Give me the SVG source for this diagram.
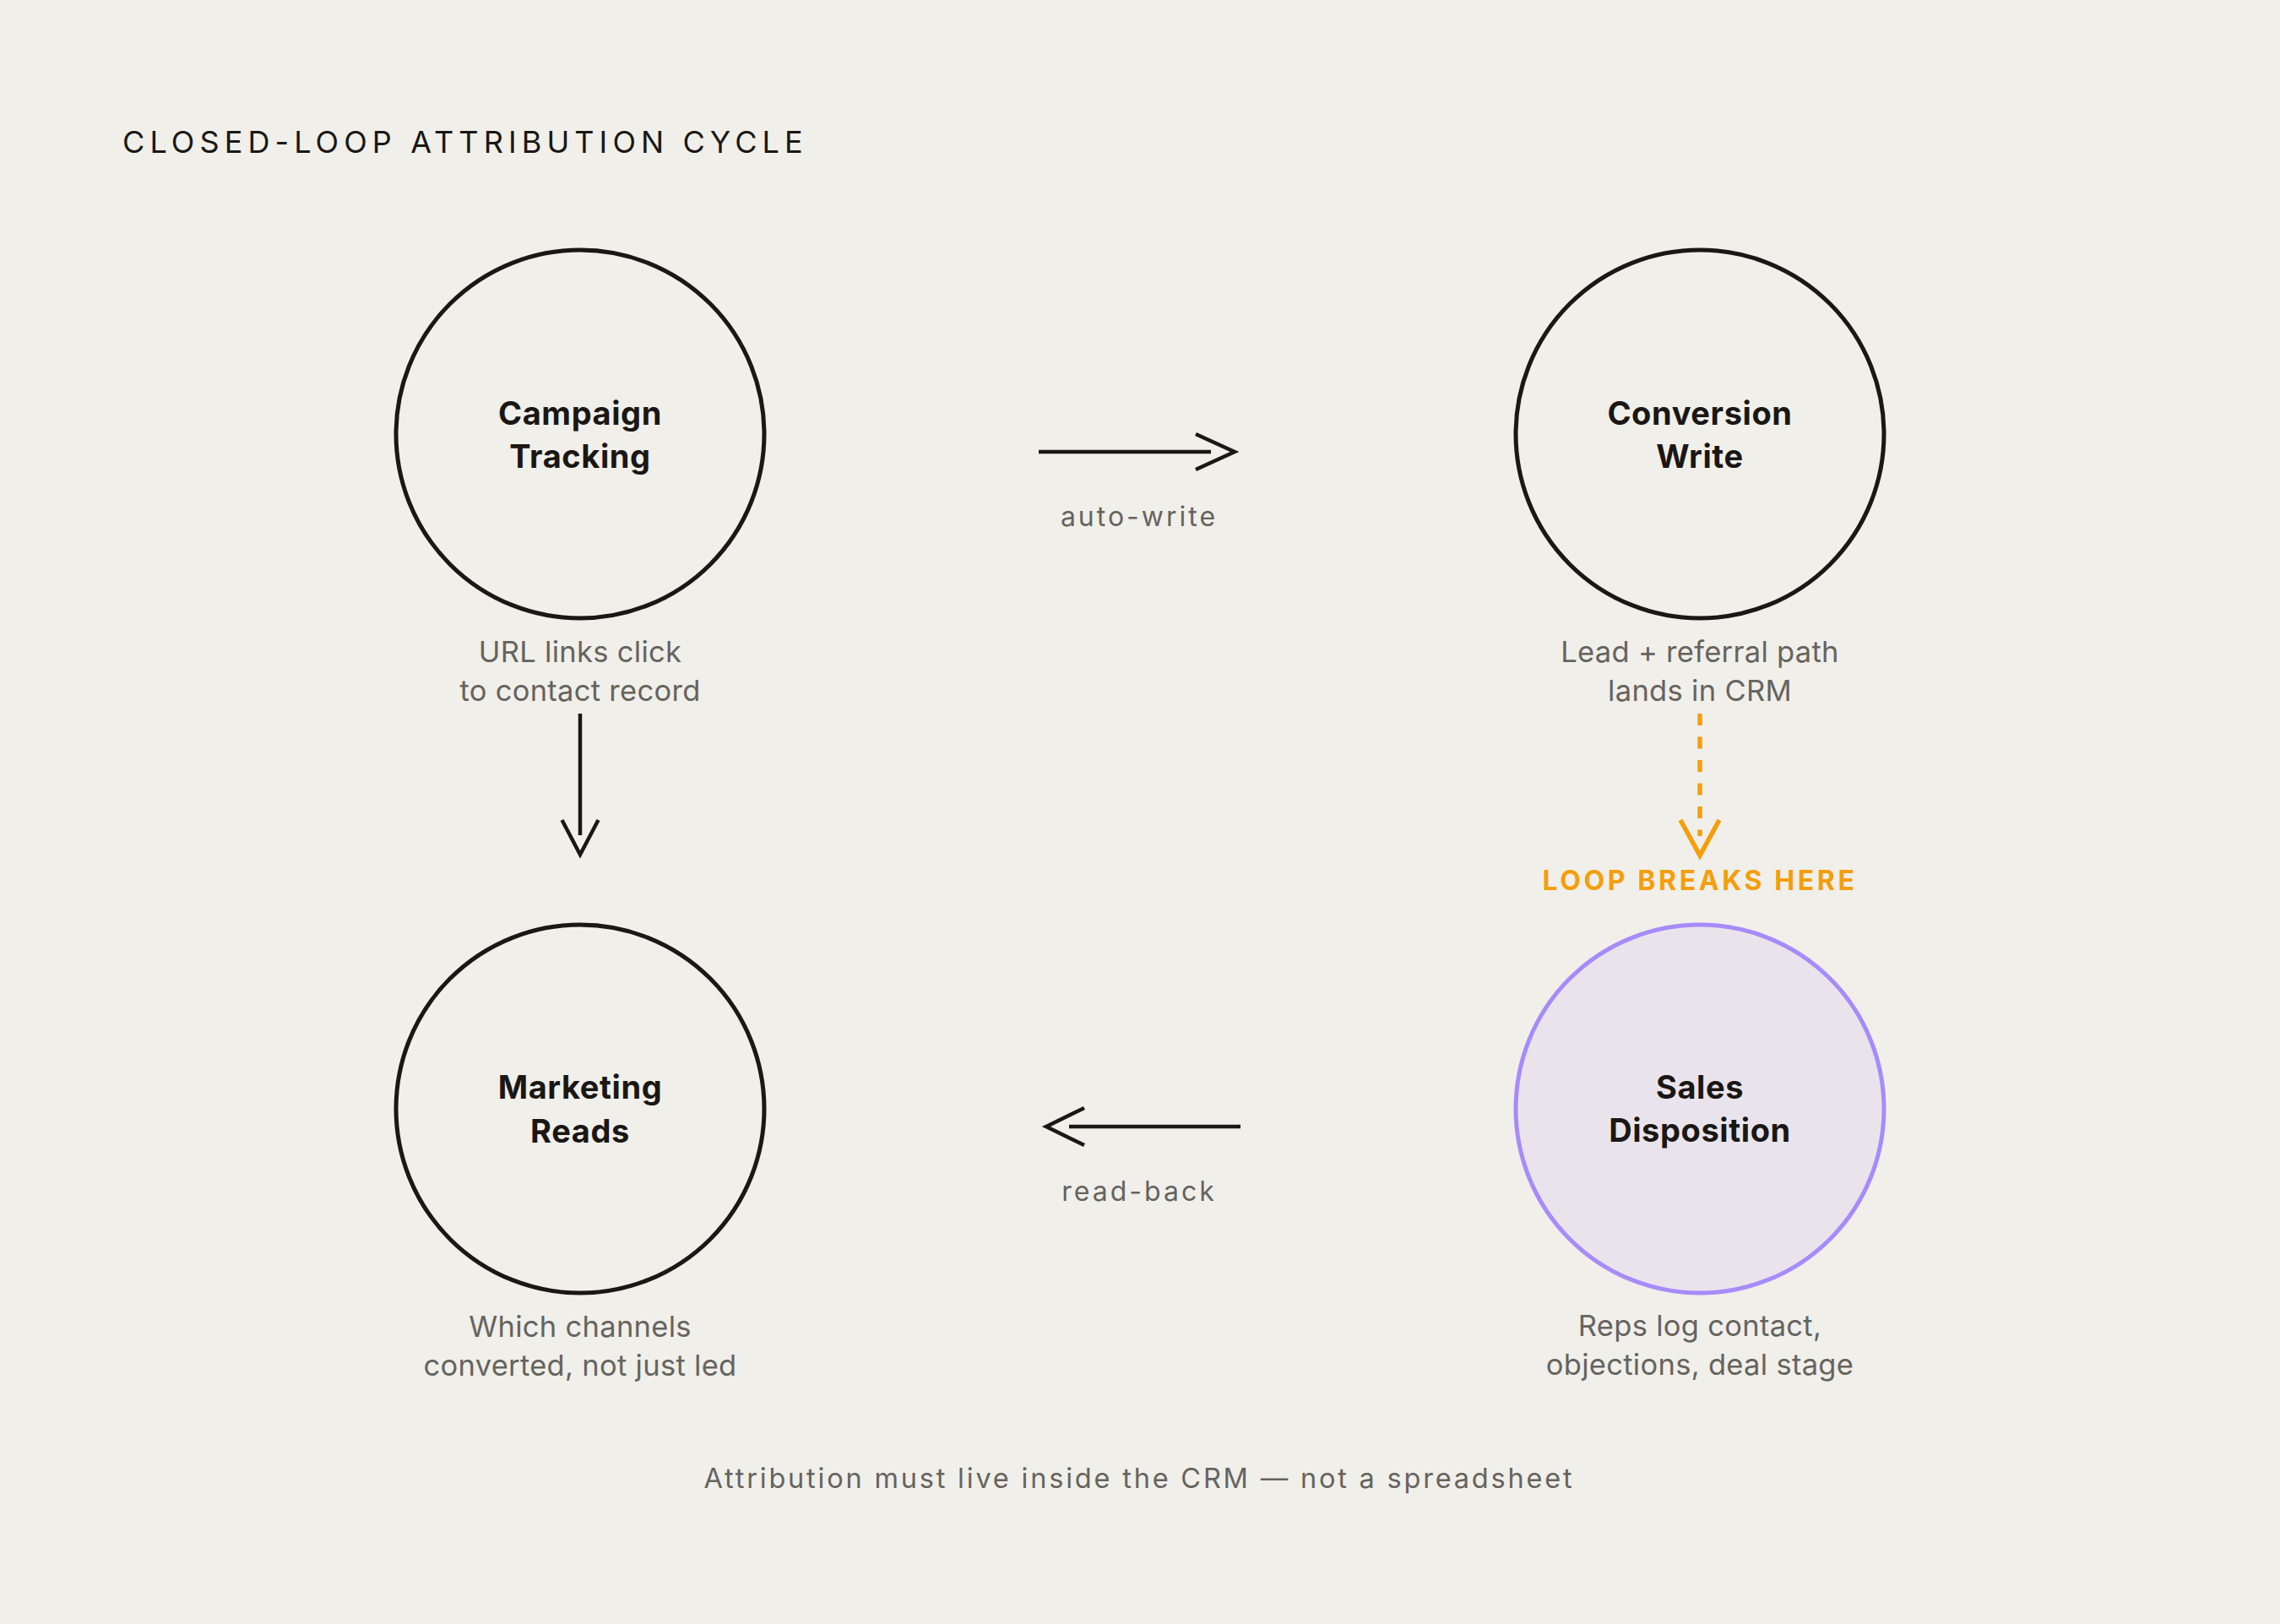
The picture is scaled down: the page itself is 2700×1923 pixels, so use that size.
<svg xmlns="http://www.w3.org/2000/svg" width="2700" height="1923" viewBox="0 0 2700 1923">
  <style>
    .node { fill: none; stroke: #1a1714; stroke-width: 5; }
    .node-hl { fill: #e9e4ec; stroke: #a78bfa; stroke-width: 5; }
    .title { font-family: Inter, "Liberation Sans", sans-serif; font-size: 36px; fill: #1a1714; letter-spacing: 6.1px; }
    .lbl { font-family: Inter, "Liberation Sans", sans-serif; font-size: 38px; font-weight: 700; fill: #1a1714; text-anchor: middle; letter-spacing: 0.6px; }
    .sub { font-family: Inter, "Liberation Sans", sans-serif; font-size: 34.5px; fill: #66635e; text-anchor: middle; letter-spacing: 0.3px; }
    .elbl { font-family: Inter, "Liberation Sans", sans-serif; font-size: 32px; fill: #66635e; text-anchor: middle; letter-spacing: 3px; }
    .foot { font-family: Inter, "Liberation Sans", sans-serif; font-size: 32.5px; fill: #66635e; text-anchor: middle; letter-spacing: 2.8px; }
    .warn { font-family: Inter, "Liberation Sans", sans-serif; font-size: 32px; font-weight: 700; fill: #f59e0b; text-anchor: middle; letter-spacing: 3.6px; }
    .edge { fill: none; stroke: #1a1714; stroke-width: 4.5; }
    .edge-warn { fill: none; stroke: #f59e0b; stroke-width: 5.5; }
  </style>
  <rect width="2700" height="1923" fill="#f0efea"/>
  <text class="title" x="145" y="181">CLOSED-LOOP ATTRIBUTION CYCLE</text>

  <g id="campaign-tracking">
    <circle class="node" cx="687" cy="514" r="218"/>
    <text class="lbl" x="687" y="503">Campaign</text>
    <text class="lbl" x="687" y="554">Tracking</text>
    <text class="sub" x="687" y="784">URL links click</text>
    <text class="sub" x="687" y="830">to contact record</text>
  </g>

  <g id="conversion-write">
    <circle class="node" cx="2013" cy="514" r="218"/>
    <text class="lbl" x="2013" y="503">Conversion</text>
    <text class="lbl" x="2013" y="554">Write</text>
    <text class="sub" x="2013" y="784">Lead + referral path</text>
    <text class="sub" x="2013" y="830">lands in CRM</text>
  </g>

  <g id="marketing-reads">
    <circle class="node" cx="687" cy="1313" r="218"/>
    <text class="lbl" x="687" y="1301">Marketing</text>
    <text class="lbl" x="687" y="1353">Reads</text>
    <text class="sub" x="687" y="1583">Which channels</text>
    <text class="sub" x="687" y="1629">converted, not just led</text>
  </g>

  <g id="sales-disposition">
    <circle class="node-hl" cx="2013" cy="1313" r="218"/>
    <text class="lbl" x="2013" y="1301">Sales</text>
    <text class="lbl" x="2013" y="1352">Disposition</text>
    <text class="sub" x="2013" y="1582">Reps log contact,</text>
    <text class="sub" x="2013" y="1628">objections, deal stage</text>
  </g>

  <g id="connectors">
    <g id="edge-auto-write">
      <line class="edge" x1="1230" y1="535" x2="1434" y2="535"/>
      <polyline class="edge" points="1416,514 1462,535 1416,556"/>
      <text class="elbl" x="1349" y="623">auto-write</text>
    </g>
    <g id="edge-to-marketing">
      <line class="edge" x1="687" y1="845" x2="687" y2="989"/>
      <polyline class="edge" points="665.5,971 687,1012 708.5,971"/>
    </g>
    <g id="edge-loop-break">
      <line class="edge-warn" x1="2013" y1="845" x2="2013" y2="990" stroke-dasharray="14 13.5"/>
      <polyline class="edge-warn" points="1990,971 2013,1013 2036,971"/>
      <text class="warn" x="2013" y="1054">LOOP BREAKS HERE</text>
    </g>
    <g id="edge-read-back">
      <line class="edge" x1="1469" y1="1334" x2="1266" y2="1334"/>
      <polyline class="edge" points="1284,1312 1239,1334 1284,1356"/>
      <text class="elbl" x="1349" y="1422">read-back</text>
    </g>
  </g>

  <text class="foot" x="1349" y="1762">Attribution must live inside the CRM — not a spreadsheet</text>
</svg>
